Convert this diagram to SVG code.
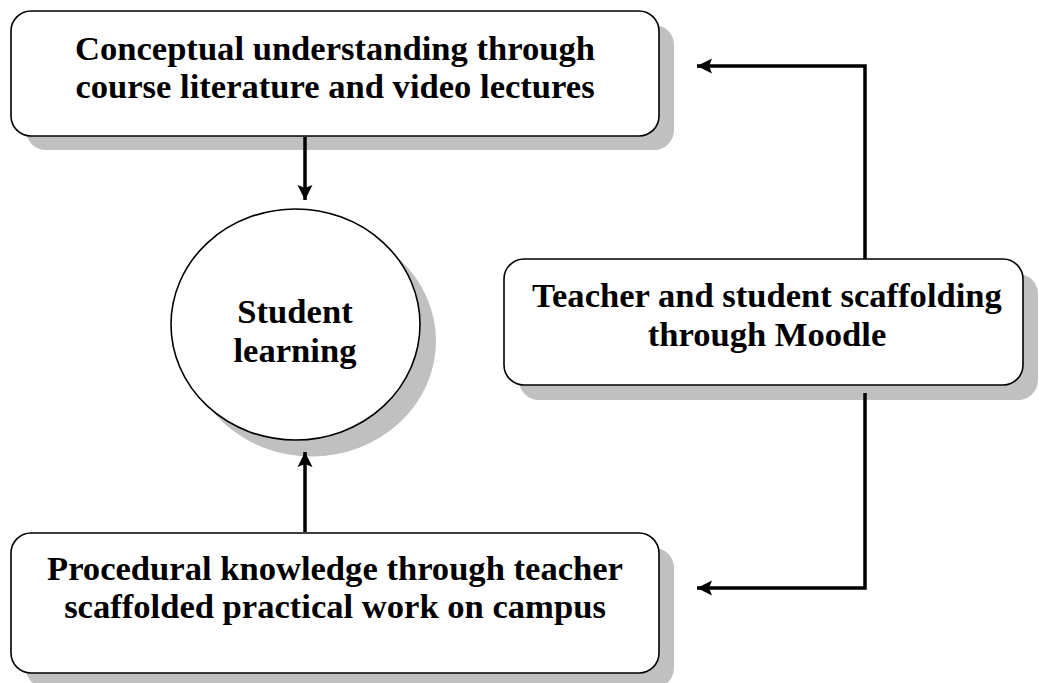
<svg xmlns="http://www.w3.org/2000/svg" width="1039" height="683" viewBox="0 0 1039 683">
<style>
.shadow{fill:#c0c0c0;stroke:none}
.box{fill:#fff;stroke:#000;stroke-width:1.6}
.t{font-family:"Liberation Serif","Times New Roman",serif;font-weight:bold;font-size:34.6px;fill:#000;text-anchor:middle}
.conn{fill:none;stroke:#000;stroke-width:3.5}
</style>
<defs>
<marker id="ah" viewBox="0 0 10 10" refX="10" refY="5" markerWidth="4.3" markerHeight="4.3" orient="auto" markerUnits="strokeWidth">
<path d="M0,0 L10,5 L0,10 L2,5 Z" fill="#000"/>
</marker>
</defs>
<rect width="1039" height="683" fill="#fff"/>
<g id="node-conceptual">
<rect class="shadow" x="26" y="25" width="648" height="125" rx="20"/>
<rect class="box" x="11" y="11" width="648" height="125" rx="20"/>
<text class="t" x="335" y="60">Conceptual understanding through</text>
<text class="t" x="335" y="98">course literature and video lectures</text>
</g>
<g id="node-student">
<ellipse class="shadow" cx="311.5" cy="341" rx="124.5" ry="115.5"/>
<ellipse class="box" cx="295.5" cy="324.5" rx="124.5" ry="115.5"/>
<text class="t" x="295" y="323">Student</text>
<text class="t" x="295" y="362">learning</text>
</g>
<g id="node-moodle">
<rect class="shadow" x="519" y="274" width="519" height="126" rx="20"/>
<rect class="box" x="504" y="259" width="519" height="126" rx="20"/>
<text class="t" x="767" y="307">Teacher and student scaffolding</text>
<text class="t" x="767" y="346">through Moodle</text>
</g>
<g id="node-procedural">
<rect class="shadow" x="26" y="548" width="648" height="140" rx="20"/>
<rect class="box" x="11" y="533" width="648" height="140" rx="20"/>
<text class="t" x="335" y="580">Procedural knowledge through teacher</text>
<text class="t" x="335" y="618">scaffolded practical work on campus</text>
</g>
<g id="connectors">
<path class="conn" d="M305,137 V200" marker-end="url(#ah)"/>
<path class="conn" d="M305,532 V452" marker-end="url(#ah)"/>
<path class="conn" d="M865,259 V66 H697" marker-end="url(#ah)"/>
<path class="conn" d="M865,393 V588 H697" marker-end="url(#ah)"/>
</g>
</svg>
